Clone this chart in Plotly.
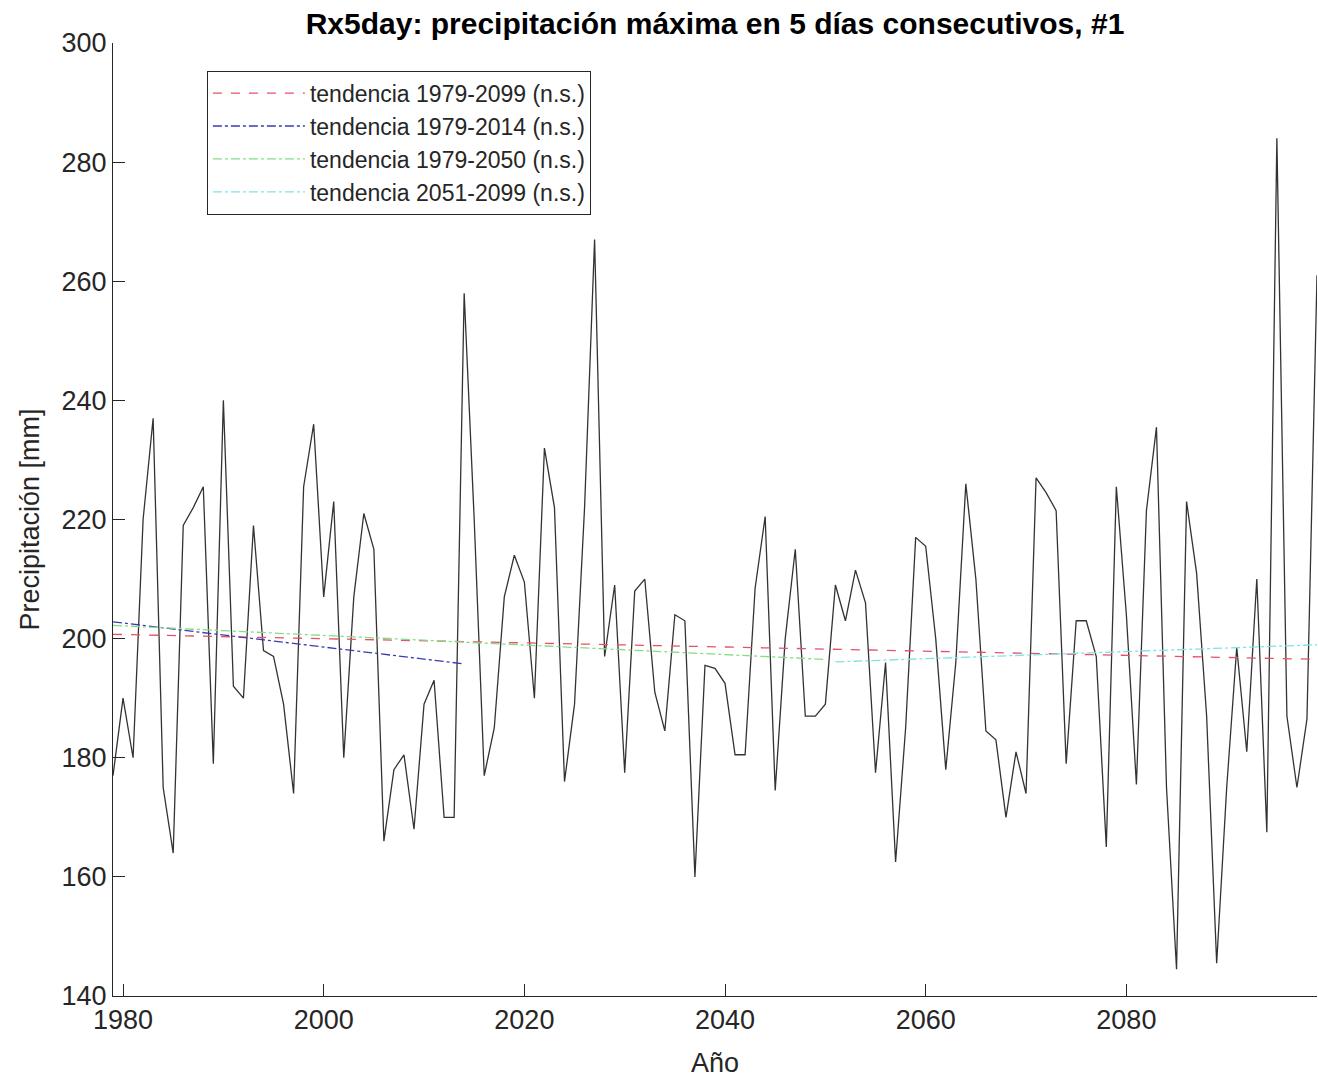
import numpy as np
import plotly.graph_objects as go

# ---- data ----
years = list(range(1979, 2100))
rx5day = [
    177, 190, 180, 220, 237, 175, 164, 219, 222, 225.5,
    179, 240, 192, 190, 219, 198, 197, 189, 174, 225.5,
    236, 207, 223, 180, 207, 221, 215, 166, 178, 180.5,
    168, 189, 193, 170, 170, 258, 220, 177, 185, 207,
    214, 209.5, 190, 232, 222, 176, 189, 222, 267, 197,
    209, 177.5, 208, 210, 191, 184.5, 204, 203, 160, 195.5,
    195, 192.5, 180.5, 180.5, 208.5, 220.5, 174.5, 200, 215, 187,
    187, 189, 209, 203, 211.5, 206, 177.5, 196, 162.5, 185,
    217, 215.5, 200, 178, 196, 226, 210, 184.5, 183, 170,
    181, 174, 227, 224.5, 221.5, 179, 203, 203, 197, 165,
    225.5, 204, 175.5, 221.5, 235.5, 175, 144.5, 223, 211, 187,
    145.5, 175, 198.5, 181, 210, 167.5, 284, 187, 175, 186.5,
    261,
]
trend_periods = [(1979, 2099), (1979, 2014), (1979, 2050), (2051, 2099)]
trend_names = ["tendencia 1979-2099 (n.s.)", "tendencia 1979-2014 (n.s.)",
               "tendencia 1979-2050 (n.s.)", "tendencia 2051-2099 (n.s.)"]
trend_colors = ["#e8506a", "#3b3bb0", "#86dc86", "#7ee3e3"]
trend_dashes = ["dash", "dashdot", "dashdot", "dashdot"]
x_ticks = [1980, 2000, 2020, 2040, 2060, 2080]
y_ticks = [140, 160, 180, 200, 220, 240, 260, 280, 300]

title_text = "Rx5day: precipitación máxima en 5 días consecutivos, #1"
x_label = "Año"
y_label = "Precipitación [mm]"

# ---- figure ----
yr = np.array(years, dtype=float)
val = np.array(rx5day, dtype=float)

fig = go.Figure()
fig.add_trace(go.Scatter(x=years, y=rx5day, mode="lines",
                         line=dict(color="#333333", width=1.3),
                         showlegend=False))

for (a, b), name, col, dash in zip(trend_periods, trend_names, trend_colors, trend_dashes):
    m = (yr >= a) & (yr <= b)
    k, c = np.polyfit(yr[m], val[m], 1)
    xs = yr[m]
    fig.add_trace(go.Scatter(x=xs, y=k * xs + c, mode="lines", name=name,
                             line=dict(color=col, width=1.3, dash=dash)))

font_family = "Liberation Sans, Arial, sans-serif"
fig.update_layout(
    width=1318, height=1080,
    margin=dict(l=113, r=1, t=43, b=84, autoexpand=False),
    paper_bgcolor="white", plot_bgcolor="white",
    font=dict(family=font_family, size=27, color="#262626"),
    title=dict(text="<b>" + title_text + "</b>", x=0.5, xref="paper",
               y=1 - 23 / 1080, yanchor="middle",
               font=dict(size=30, color="black", family=font_family)),
    legend=dict(x=0.078, y=0.971, xanchor="left", yanchor="top",
                bgcolor="white", bordercolor="#262626", borderwidth=1,
                font=dict(size=23, color="#262626"), itemwidth=92),
    showlegend=True,
)
fig.update_xaxes(range=[1979, 2099], tickvals=x_ticks, showgrid=False,
                 zeroline=False, showline=True, linecolor="#262626", linewidth=1,
                 ticks="inside", ticklen=12, tickcolor="#262626", automargin=False,
                 title=dict(text=x_label, standoff=18, font=dict(size=27)))
fig.update_yaxes(range=[140, 300], tickvals=y_ticks, showgrid=False,
                 zeroline=False, showline=True, linecolor="#262626", linewidth=1,
                 ticks="inside", ticklen=12, tickcolor="#262626", automargin=False,
                 title=dict(text=y_label, standoff=14, font=dict(size=27)))

fig.write_html("out.html", config={"displayModeBar": False},
               post_script="document.body.style.margin='0';document.body.style.overflow='hidden';")
